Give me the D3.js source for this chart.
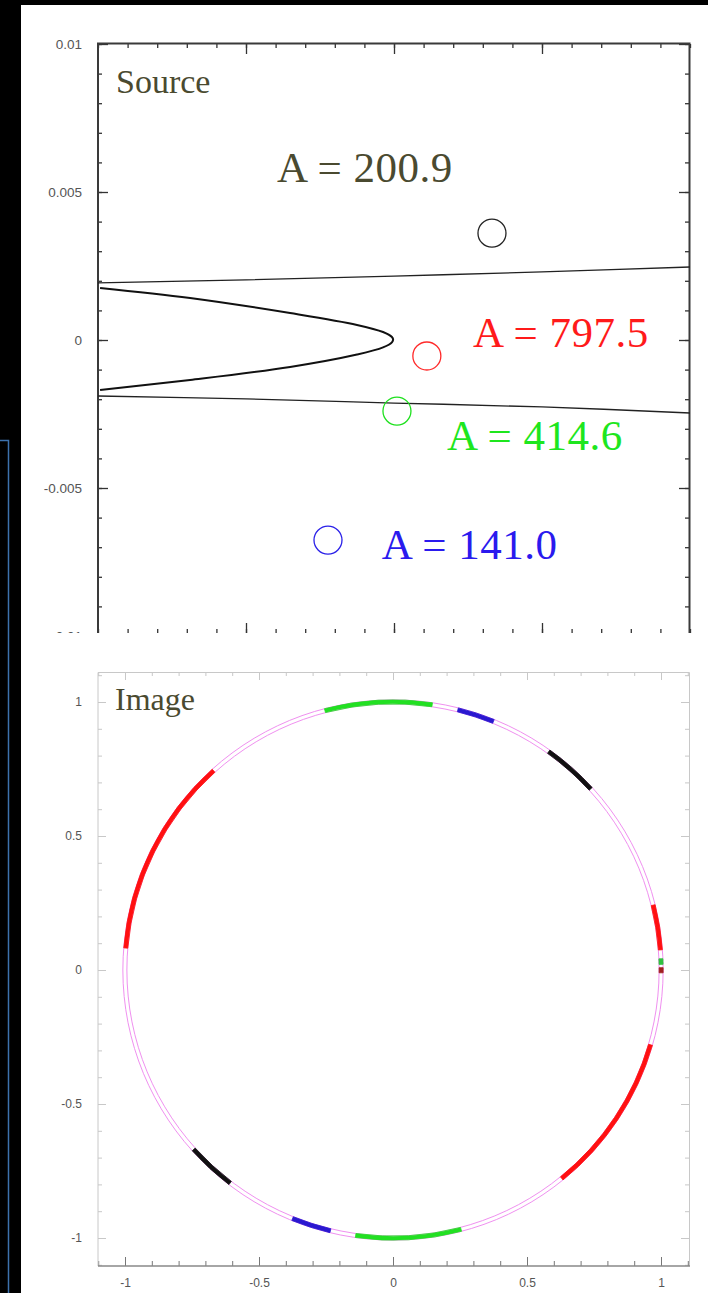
<!DOCTYPE html>
<html>
<head>
<meta charset="utf-8">
<script src="https://cdn.jsdelivr.net/npm/d3@7"></script>
<style>
  body { margin: 0; background: #000; overflow: hidden; }
  svg { display: block; }
  .tick text { font-family: "Liberation Sans", Arial, sans-serif; fill: #555; }
</style>
</head>
<body>
<div id="chart"></div>
<script>
// source plane: caustic curves
var innerCaustic = [
  [-0.00993, 0.00176], [-0.00689, 0.00142], [-0.00351, 0.00091], [-0.00125, 0.00051],
  [-0.00037, 0.00027], [-0.00007, 0.00010], [-0.00003, 0.00002], [-0.00007, -0.00008],
  [-0.00037, -0.00025], [-0.00125, -0.00049], [-0.00351, -0.00091], [-0.00689, -0.00135],
  [-0.00993, -0.00169]
];
var upperCaustic = [[-0.0101, 0.00193], [-0.005, 0.00203], [0, 0.00216], [0.005, 0.0023], [0.0101, 0.00247]];
var lowerCaustic = [[-0.0101, -0.00189], [-0.005, -0.00199], [0, -0.00213], [0.005, -0.00226], [0.0101, -0.00247]];

// source positions and magnifications
var srcX = [0.00331, 0.00111, 0.0001, -0.00223];
var srcY = [0.00361, -0.00054, -0.0024, -0.00676];
var srcColor = ["#222", "#ff2a2a", "#1ee01e", "#2a20e8"];
var srcLabel = ["A = 200.9", "A = 797.5", "A = 414.6", "A = 141.0"];
var labelColor = ["#4a4a30", "#ff1a1a", "#1ee61e", "#2a1aee"];
var labelX = [-0.00395, 0.00267, 0.00179, -0.00041];
var labelY = [0.00534, -0.00024, -0.00372, -0.00740];

var srcTicks = [0.01, 0.005, 0, -0.005, -0.01];
var imgTicks = [-1, -0.5, 0, 0.5, 1];

// image plane arcs: start / end angle in degrees (counter-clockwise from +x)
var arcStart = [81.6, 68, 42.5, 132, 4.3, 1.2, -0.6, -51, -138, -112, -98];
var arcEnd   = [104.7, 76, 54.5, 175.3, 14, 2.4, 0.5, -16.2, -127.4, -103.5, -75.3];
var arcColor = ["#22e022", "#2a18d0", "#111", "#ff1010", "#ff1010", "#30c040", "#a02020",
                "#ff1010", "#111", "#2a18d0", "#22e022"];
var ringRadii = [0.993, 1.008];

var W = 708, H = 1293;
var svg = d3.select("#chart").append("svg").attr("width", W).attr("height", H);

svg.append("rect").attr("width", W).attr("height", H).attr("fill", "#000");
svg.append("rect").attr("x", 21).attr("y", 5).attr("width", W - 21).attr("height", H - 5).attr("fill", "#fff");
svg.append("path").attr("d", "M0,440.5H8.5V1293").attr("fill", "none").attr("stroke", "#3d72ad").attr("stroke-width", 1.5);

// ---------- Source panel ----------
var xS = d3.scaleLinear().domain([-0.01, 0.01]).range([98, 690]);
var yS = d3.scaleLinear().domain([-0.01, 0.01]).range([636, 44]);

svg.append("clipPath").attr("id", "clipSrc")
  .append("rect").attr("x", 0).attr("y", 0).attr("width", W).attr("height", 633);
svg.append("clipPath").attr("id", "plotSrc")
  .append("rect").attr("x", 98).attr("y", 43).attr("width", 592).attr("height", 590);

var gS = svg.append("g").attr("clip-path", "url(#clipSrc)");
var minorS = d3.range(-0.01, 0.0105, 0.001);

function srcAxis(axis, vals, size, tr, labels) {
  var a = axis.tickValues(vals).tickSize(size).tickPadding(16)
    .tickFormat(labels ? function(d) { return String(+d.toFixed(4)); } : "");
  var g = gS.append("g").attr("transform", tr).call(a);
  g.select(".domain").remove();
  g.selectAll("line").attr("stroke", "#333").attr("stroke-width", 1.3);
  g.selectAll("text").style("font-size", "13.5px");
  return g;
}
srcAxis(d3.axisLeft(yS), minorS, -4, "translate(98,0)", false);
srcAxis(d3.axisLeft(yS), srcTicks, -10, "translate(98,0)", true);
srcAxis(d3.axisRight(yS), minorS, -4, "translate(689,0)", false);
srcAxis(d3.axisRight(yS), srcTicks, -10, "translate(689,0)", false);
srcAxis(d3.axisTop(xS), minorS, -4, "translate(0,44)", false);
srcAxis(d3.axisTop(xS), [-0.005, 0, 0.005], -10, "translate(0,44)", false);
srcAxis(d3.axisBottom(xS), minorS, -4, "translate(0,633)", false);
srcAxis(d3.axisBottom(xS), [-0.005, 0, 0.005], -10, "translate(0,633)", false);

gS.append("path").attr("d", "M98,633V43.5H689.5V633")
  .attr("fill", "none").attr("stroke", "#3a3a3a").attr("stroke-width", 2);

var line = d3.line().x(function(d) { return xS(d[0]); }).y(function(d) { return yS(d[1]); }).curve(d3.curveCatmullRom);
var gc = gS.append("g").attr("clip-path", "url(#plotSrc)");
gc.append("path").attr("d", line(innerCaustic)).attr("fill", "none").attr("stroke", "#111").attr("stroke-width", 2);
gc.append("path").attr("d", line(upperCaustic)).attr("fill", "none").attr("stroke", "#222").attr("stroke-width", 1.3);
gc.append("path").attr("d", line(lowerCaustic)).attr("fill", "none").attr("stroke", "#222").attr("stroke-width", 1.3);

gS.selectAll("circle.src").data(srcX).enter().append("circle")
  .attr("class", "src")
  .attr("cx", function(d) { return xS(d); })
  .attr("cy", function(d, i) { return yS(srcY[i]); })
  .attr("r", 14)
  .attr("fill", "none")
  .attr("stroke", function(d, i) { return srcColor[i]; })
  .attr("stroke-width", 1.3);

gS.selectAll("text.lab").data(srcLabel).enter().append("text")
  .attr("class", "lab")
  .attr("x", function(d, i) { return xS(labelX[i]); })
  .attr("y", function(d, i) { return yS(labelY[i]); })
  .attr("fill", function(d, i) { return labelColor[i]; })
  .style("font-family", "'Liberation Serif', 'DejaVu Serif', serif")
  .style("font-size", "43px")
  .style("font-variant-numeric", "oldstyle-nums")
  .style("letter-spacing", "0.5px")
  .text(function(d) { return d; });

gS.append("text").attr("x", 116).attr("y", 93).attr("fill", "#4a4a30")
  .style("font-family", "'Liberation Serif', serif").style("font-size", "34px").text("Source");

// ---------- Image panel ----------
var xI = d3.scaleLinear().domain([-1, 1]).range([125, 661]);
var yI = d3.scaleLinear().domain([-1, 1]).range([1238, 702]);
var gI = svg.append("g");
var minorI = d3.range(-1.1, 1.15, 0.1).map(function(d) { return +d.toFixed(2); })
  .filter(function(d) { return d >= -1.1 && d <= 1.1; });

function imgAxis(axis, vals, size, tr, labels, col) {
  var a = axis.tickValues(vals).tickSize(size).tickPadding(labels === "x" ? 12 : 16)
    .tickFormat(labels ? function(d) { return String(d); } : "");
  var g = gI.append("g").attr("transform", tr).call(a);
  g.select(".domain").remove();
  g.selectAll("line").attr("stroke", col).attr("stroke-width", 1);
  g.selectAll("text").style("font-size", "12px");
  return g;
}
var minorY = minorI.filter(function(d) { return yI(d) > 672 && yI(d) < 1266; });
var minorX = minorI.filter(function(d) { return xI(d) > 98 && xI(d) < 690; });
imgAxis(d3.axisLeft(yI), minorY, -4, "translate(98,0)", false, "#c8c8c8");
imgAxis(d3.axisLeft(yI), imgTicks, -8, "translate(98,0)", true, "#c8c8c8");
imgAxis(d3.axisRight(yI), minorY, -4, "translate(689,0)", false, "#c8c8c8");
imgAxis(d3.axisRight(yI), imgTicks, -8, "translate(689,0)", false, "#c8c8c8");
imgAxis(d3.axisTop(xI), minorX, -4, "translate(0,672)", false, "#c8c8c8");
imgAxis(d3.axisTop(xI), imgTicks, -8, "translate(0,672)", false, "#c8c8c8");
imgAxis(d3.axisBottom(xI), minorX, -5, "translate(0,1266)", false, "#777");
var bx = imgAxis(d3.axisBottom(xI), imgTicks, -9, "translate(0,1266)", "x", "#777");
bx.selectAll("text").attr("dy", "0.71em");

gI.append("path").attr("d", "M98,1266V672.5H689.5V1266")
  .attr("fill", "none").attr("stroke", "#c8c8c8").attr("stroke-width", 1);
gI.append("line").attr("x1", 98).attr("x2", 690).attr("y1", 1266).attr("y2", 1266)
  .attr("stroke", "#888").attr("stroke-width", 1.5);

var R = xI(1) - xI(0);
gI.selectAll("circle.ring").data(ringRadii).enter().append("circle")
  .attr("class", "ring")
  .attr("cx", xI(0)).attr("cy", yI(0))
  .attr("r", function(d) { return d * R; })
  .attr("fill", "none").attr("stroke", "#f090f0").attr("stroke-width", 1);

var arcGen = d3.arc().innerRadius(ringRadii[0] * R).outerRadius(ringRadii[1] * R);
gI.selectAll("path.img").data(arcStart).enter().append("path")
  .attr("class", "img")
  .attr("transform", "translate(" + xI(0) + "," + yI(0) + ")")
  .attr("d", function(d, i) {
    return arcGen({ startAngle: (90 - arcEnd[i]) * Math.PI / 180, endAngle: (90 - d) * Math.PI / 180 });
  })
  .attr("fill", function(d, i) { return arcColor[i]; })
  .attr("stroke", function(d, i) { return arcColor[i]; })
  .attr("stroke-width", 0.8);

gI.append("text").attr("x", 115).attr("y", 710).attr("fill", "#4a4a30")
  .style("font-family", "'Liberation Serif', serif").style("font-size", "32px").text("Image");
</script>
</body>
</html>
